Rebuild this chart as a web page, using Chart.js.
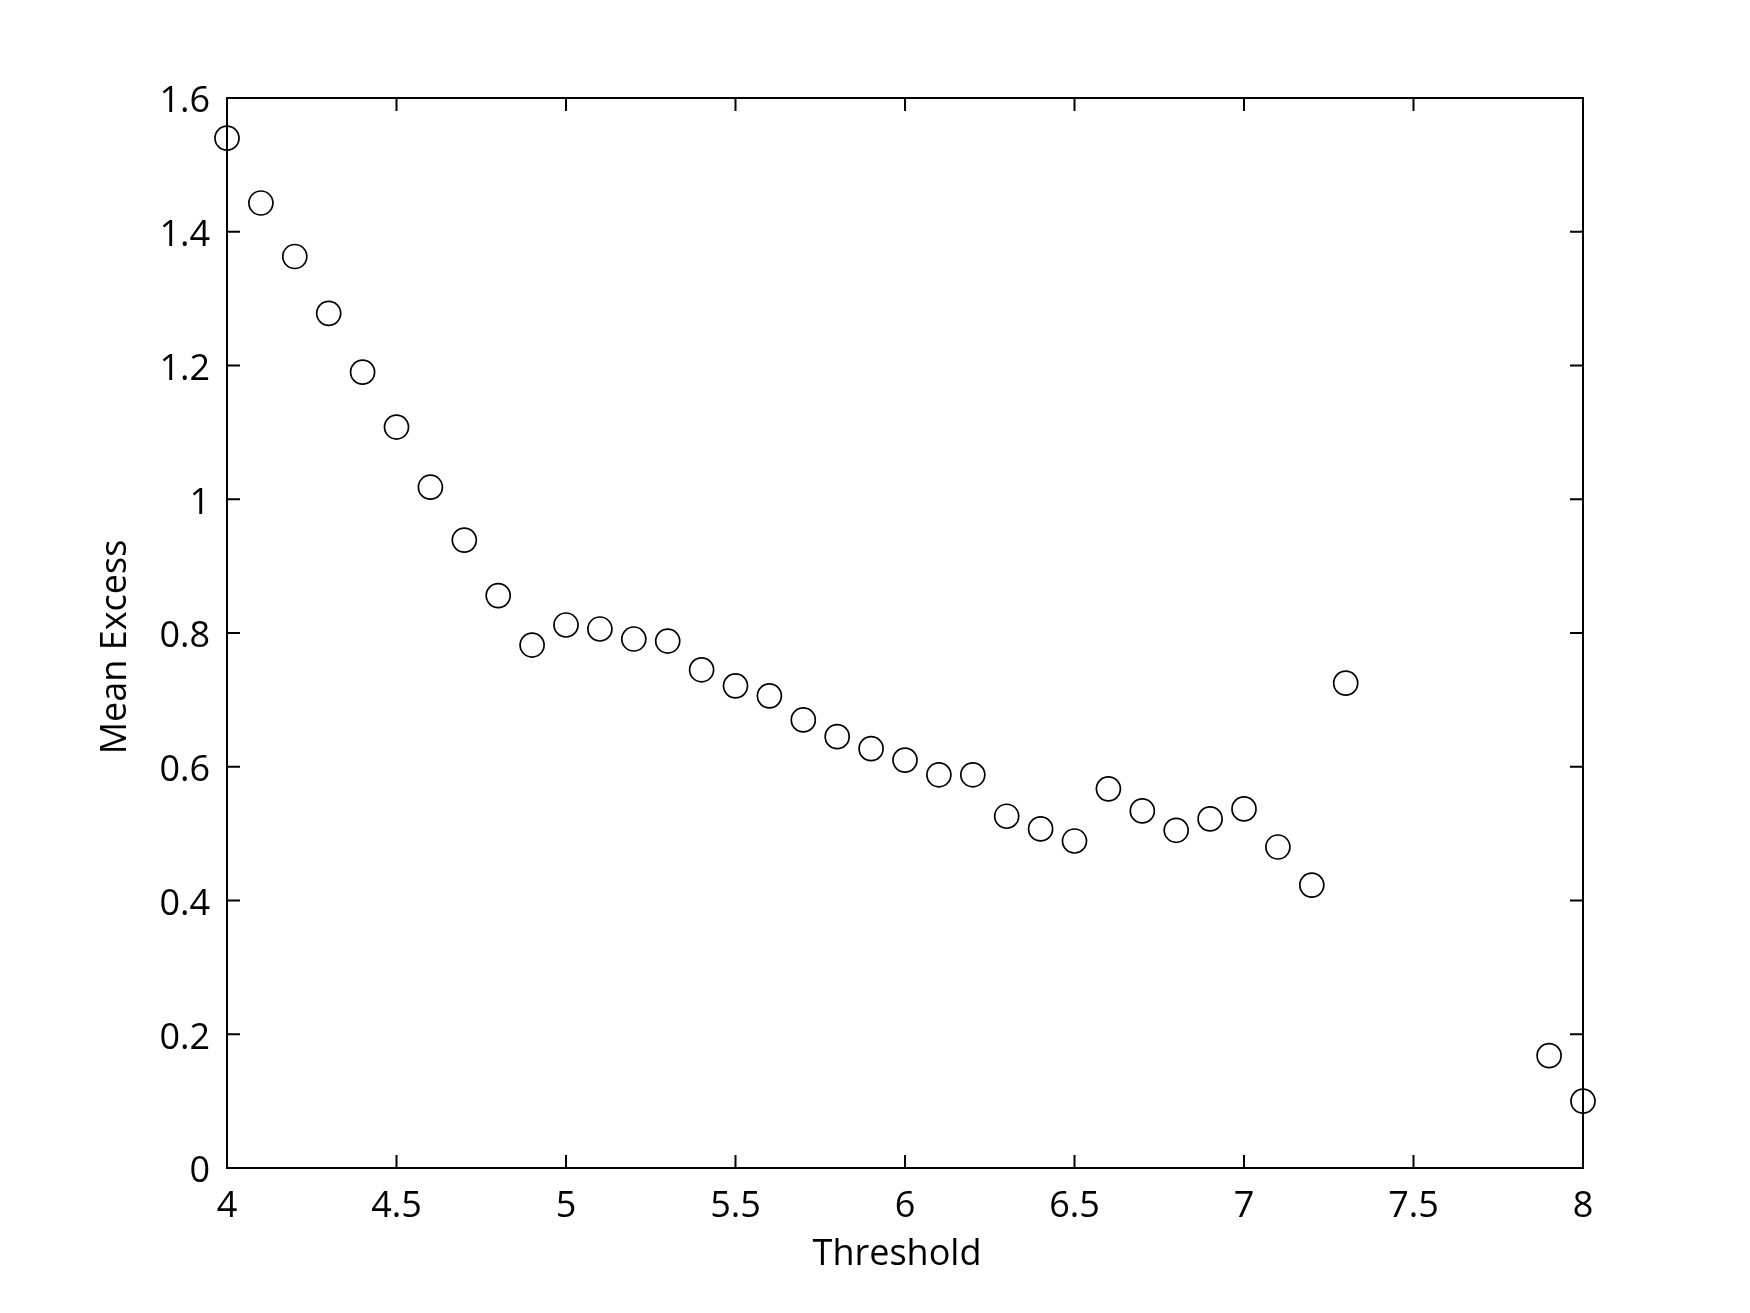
<!DOCTYPE html>
<html>
<head>
<meta charset="utf-8">
<title>Mean Excess vs Threshold</title>
<script src="https://cdn.jsdelivr.net/npm/chart.js@4/dist/chart.umd.min.js"></script>
<style>
    html, body { margin: 0; padding: 0; background: #ffffff; }
    #wrap { width: 1750px; height: 1313px; }
</style>
</head>
<body>
<div id="wrap"><canvas id="chart" width="1750" height="1313"></canvas></div>
<script>
'use strict';

// ── Data ──────────────────────────────────────────────────────────────────
var thresholds = [4.0, 4.1, 4.2, 4.3, 4.4, 4.5, 4.6, 4.7, 4.8, 4.9,
                  5.0, 5.1, 5.2, 5.3, 5.4, 5.5, 5.6, 5.7, 5.8, 5.9,
                  6.0, 6.1, 6.2, 6.3, 6.4, 6.5, 6.6, 6.7, 6.8, 6.9,
                  7.0, 7.1, 7.2, 7.3, 7.9, 8.0];
var meanExcess = [1.540, 1.443, 1.363, 1.278, 1.190, 1.108, 1.018, 0.939, 0.856, 0.782,
                  0.812, 0.806, 0.791, 0.788, 0.745, 0.721, 0.706, 0.670, 0.645, 0.627,
                  0.610, 0.588, 0.588, 0.526, 0.507, 0.489, 0.567, 0.534, 0.505, 0.522,
                  0.537, 0.480, 0.423, 0.725, 0.168, 0.100];

var xTicks = [4, 4.5, 5, 5.5, 6, 6.5, 7, 7.5, 8];
var yTicks = [0, 0.2, 0.4, 0.6, 0.8, 1, 1.2, 1.4, 1.6];
var xLabel = 'Threshold';
var yLabel = 'Mean Excess';

var FONT = "'Open Sans', 'Noto Sans', sans-serif";
var INK  = '#000000';
var TICK_LEN = 13;

// ── Box frame + inward ticks on all four sides (MATLAB style) ────────────
var boxPlugin = {
    id: 'box',
    beforeDatasetsDraw: function (chart) {
        var ctx = chart.ctx;
        var a = chart.chartArea;
        var xs = chart.scales.x;
        var ys = chart.scales.y;
        ctx.save();
        ctx.strokeStyle = INK;
        ctx.lineWidth = 2;
        ctx.strokeRect(a.left, a.top, a.right - a.left, a.bottom - a.top);
        ctx.beginPath();
        xTicks.forEach(function (v) {
            var px = xs.getPixelForValue(v);
            ctx.moveTo(px, a.bottom); ctx.lineTo(px, a.bottom - TICK_LEN);
            ctx.moveTo(px, a.top);    ctx.lineTo(px, a.top + TICK_LEN);
        });
        yTicks.forEach(function (v) {
            var py = ys.getPixelForValue(v);
            ctx.moveTo(a.left, py);  ctx.lineTo(a.left + TICK_LEN, py);
            ctx.moveTo(a.right, py); ctx.lineTo(a.right - TICK_LEN, py);
        });
        ctx.stroke();
        ctx.restore();
    },
    // axis labels sit slightly off the axis centres in the original
    afterDraw: function (chart) {
        var ctx = chart.ctx;
        var a = chart.chartArea;
        ctx.save();
        ctx.fillStyle = INK;
        ctx.font = '36px ' + FONT;
        ctx.textAlign = 'center';
        ctx.textBaseline = 'middle';
        ctx.fillText(xLabel, (a.left + a.right) / 2 - 8, 1255);
        ctx.translate(116, (a.top + a.bottom) / 2 + 14);
        ctx.rotate(-Math.PI / 2);
        ctx.fillText(yLabel, 0, 0);
        ctx.restore();
    }
};

var points = thresholds.map(function (t, i) { return { x: t, y: meanExcess[i] }; });

new Chart(document.getElementById('chart'), {
    type: 'scatter',
    data: {
        datasets: [{
            label: yLabel,
            data: points,
            pointStyle: 'circle',
            pointRadius: 12,
            pointHoverRadius: 12,
            pointBorderWidth: 1.7,
            borderColor: INK,
            backgroundColor: 'rgba(0,0,0,0)',
            clip: false
        }]
    },
    options: {
        responsive: false,
        animation: false,
        events: [],
        layout: { padding: { top: 98, right: 167, left: 0, bottom: 0 } },
        plugins: {
            legend: { display: false },
            tooltip: { enabled: false }
        },
        scales: {
            x: {
                type: 'linear',
                min: 4,
                max: 8,
                afterFit: function (s) { s.height = 145; },
                afterBuildTicks: function (s) {
                    s.ticks = xTicks.map(function (v) { return { value: v }; });
                },
                ticks: {
                    color: INK,
                    padding: 17,
                    maxRotation: 0,
                    font: { family: FONT, size: 36 },
                    callback: function (v) { return String(v); }
                },
                grid: { display: false, drawTicks: false },
                border: { display: false },
                title: { display: false }
            },
            y: {
                type: 'linear',
                min: 0,
                max: 1.6,
                afterFit: function (s) { s.width = 227; },
                afterBuildTicks: function (s) {
                    s.ticks = yTicks.map(function (v) { return { value: v }; });
                },
                ticks: {
                    color: INK,
                    padding: 17,
                    labelOffset: 4,
                    font: { family: FONT, size: 36 },
                    callback: function (v) { return String(v); }
                },
                grid: { display: false, drawTicks: false },
                border: { display: false },
                title: { display: false }
            }
        }
    },
    plugins: [boxPlugin]
});
</script>
</body>
</html>
